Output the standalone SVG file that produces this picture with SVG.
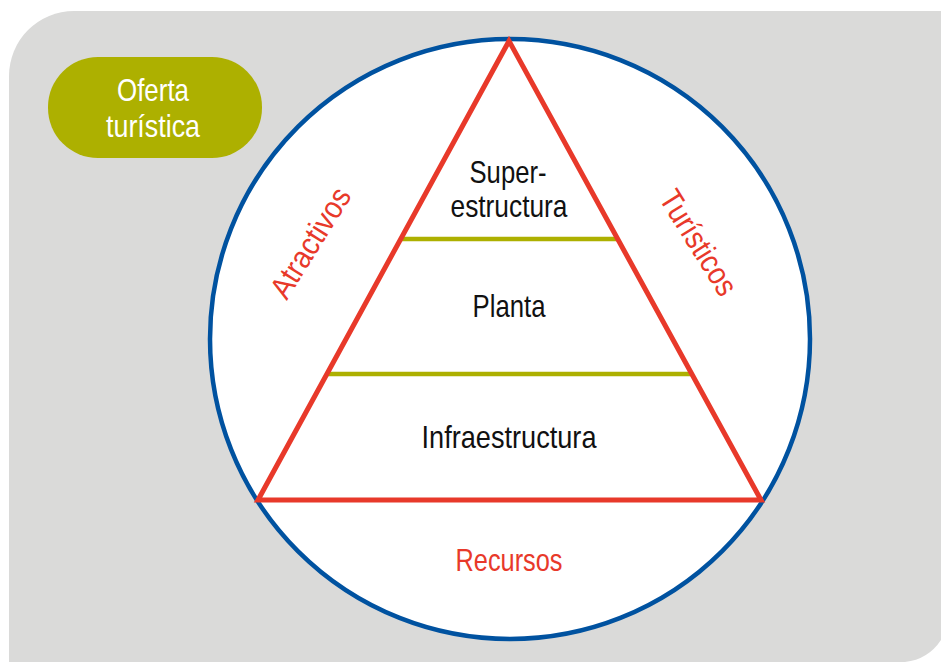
<svg xmlns="http://www.w3.org/2000/svg" width="941" height="662" viewBox="0 0 941 662">
<style>
.t{font-family:"Liberation Sans",Arial,sans-serif;font-size:31.5px;text-anchor:middle}
.k{fill:#111}
.r{fill:#e8392a}
.w{fill:#fff}
</style>
<rect width="941" height="662" fill="#fff"/>
<g id="background">
<path d="M9,76 A65,65 0 0 1 74,11 L941,11 L941,640 A50,50 0 0 1 905,662 L9,662 Z" fill="#dadad9"/>
</g>
<g id="oferta">
<rect x="48" y="57" width="214" height="101" rx="50" fill="#adb000"/>
<text class="t w" x="153" y="101" textLength="72" lengthAdjust="spacingAndGlyphs">Oferta</text>
<text class="t w" x="153" y="137" textLength="94" lengthAdjust="spacingAndGlyphs">turística</text>
</g>
<g id="circle">
<circle cx="510" cy="339" r="300" fill="#fff" stroke="#0052a0" stroke-width="4.5"/>
</g>
<g id="connectors">
<line x1="401" y1="239" x2="617" y2="239" stroke="#adb000" stroke-width="4.5"/>
<line x1="328" y1="374" x2="691" y2="374" stroke="#adb000" stroke-width="4.5"/>
<polygon points="509,41 258,500 761,500" fill="none" stroke="#e8392a" stroke-width="5" stroke-linejoin="miter"/>
</g>
<g id="superestructura">
<text class="t k" x="508" y="183" textLength="77" lengthAdjust="spacingAndGlyphs">Super-</text>
<text class="t k" x="509" y="217" textLength="117" lengthAdjust="spacingAndGlyphs">estructura</text>
</g>
<g id="planta">
<text class="t k" x="509" y="317" textLength="73" lengthAdjust="spacingAndGlyphs">Planta</text>
</g>
<g id="infraestructura">
<text class="t k" x="509" y="448" textLength="175" lengthAdjust="spacingAndGlyphs">Infraestructura</text>
</g>
<g id="recursos">
<text class="t r" x="509" y="571" textLength="107" lengthAdjust="spacingAndGlyphs">Recursos</text>
</g>
<g id="atractivos">
<text class="t r" transform="translate(311,243) rotate(-58)" x="0" y="10" textLength="124" lengthAdjust="spacingAndGlyphs">Atractivos</text>
</g>
<g id="turisticos">
<text class="t r" transform="translate(698,243) rotate(58)" x="0" y="10" textLength="118" lengthAdjust="spacingAndGlyphs">Turísticos</text>
</g>
</svg>
